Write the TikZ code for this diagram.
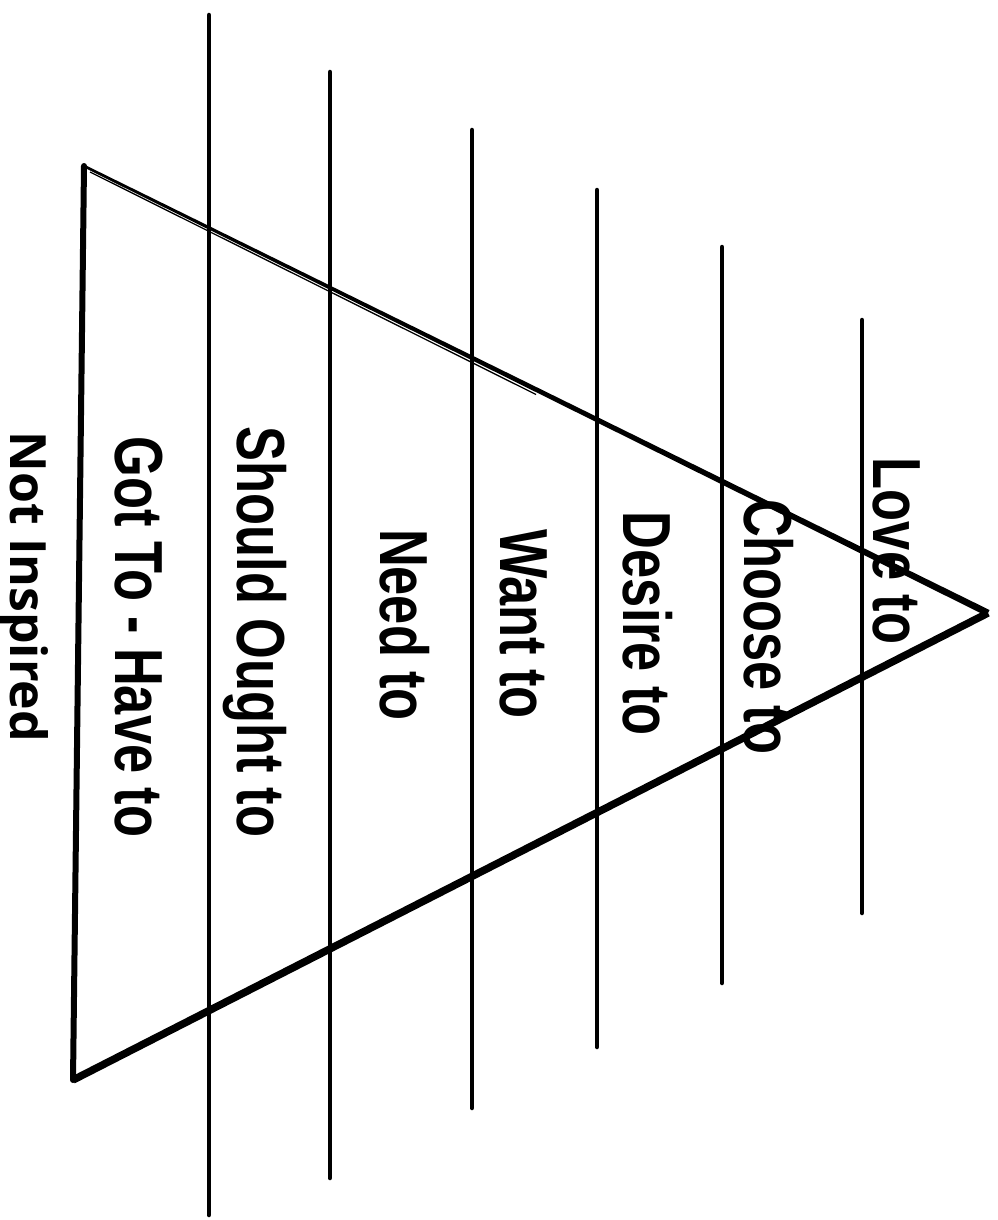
\documentclass[tikz,border=0pt]{standalone}
\usepackage{fontspec}
\usetikzlibrary{calc}
\newfontfamily\handfont[FakeStretch=0.77]{Liberation Sans Bold}
\newfontfamily\labelfont{Open Sans}
\begin{document}
\begin{tikzpicture}[x=1pt,y=-1pt,
  rule/.style={line width=4.5pt, black, line cap=round},
  edge/.style={line width=6pt, black, line join=miter, line cap=round},
  lvl/.style={rotate=-90, anchor=base, inner sep=0pt, font=\handfont\fontsize{68}{70}\selectfont},
  tag/.style={rotate=-90, anchor=base, inner sep=0pt, font=\labelfont\bfseries\fontsize{50}{52}\selectfont}]
\useasboundingbox[fill=white] (0,0) rectangle (997,1220);
% vertical rules
\coordinate (a1) at (209,15);  \coordinate (a2) at (209,1215);
\coordinate (b1) at (330,72);  \coordinate (b2) at (330,1178);
\coordinate (c1) at (472,130); \coordinate (c2) at (472,1108);
\coordinate (d1) at (597,190); \coordinate (d2) at (597,1047);
\coordinate (e1) at (722,247); \coordinate (e2) at (722,983);
\coordinate (f1) at (862,320); \coordinate (f2) at (862,913);
\foreach \p in {a,b,c,d,e,f} \draw[rule] (\p1) -- (\p2);
% triangle
\coordinate (tl) at (84,166);
\coordinate (bl) at (73,1080);
\coordinate (ap) at (988,613);
% top edge: tapered stroke, thin at the left, heavier toward the apex
\fill (84.6,164.8) -- (989.5,610.0) -- (986.5,616.0) -- (83.4,167.2) -- cycle;
\draw[line width=1.3pt] ($(tl)+(6,6)$) -- ($(tl)!0.5!(ap)+(0,5)$);
\draw[line width=7.5pt, line join=miter] (ap) -- (bl);
\draw[edge] (bl) -- (tl);
% labels
\node[lvl] (love)   at (873,551) {Love to};
\node[lvl] (choose) at (744,627) {Choose to};
\node[lvl] (desire) at (623,624) {Desire to};
\node[lvl] (want)   at (500,624) {Want to};
\node[lvl] (need)   at (380,625) {Need to};
\node[lvl] (should) at (237,632) {Should Ought to};
\node[lvl] (got)    at (115,637) {Got To - Have to};
\node[tag] (notins) at (10,587) {Not Inspired};
\end{tikzpicture}
\end{document}
